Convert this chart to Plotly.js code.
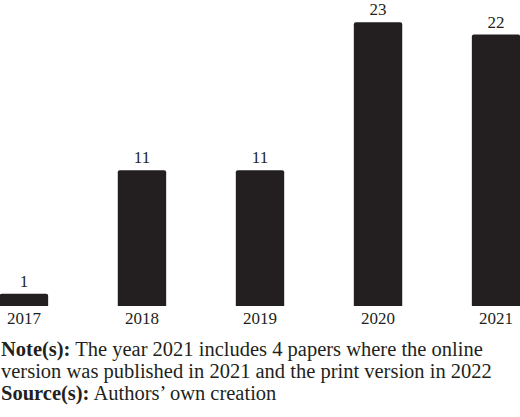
<!DOCTYPE html>
<html>
<head>
<meta charset="utf-8">
<script src="https://cdn.plot.ly/plotly-3.0.1.min.js"></script>
<style>
  html, body { margin: 0; padding: 0; background: #fff; }
  #chart { width: 520px; height: 417px; }
</style>
</head>
<body>
<div id="chart"></div>
<script>
var years = ['2017', '2018', '2019', '2020', '2021'];
var papers = [1, 11, 11, 23, 22];
var notes = [
  '<b>Note(s):</b> The year 2021 includes 4 papers where the online',
  'version was published in 2021 and the print version in 2022',
  '<b>Source(s):</b> Authors\u2019 own creation'
];
var noteY = [-0.143, -0.215, -0.287];

var ink = '#231f20';
var serif = 'Liberation Serif, Times New Roman, serif';

var data = [{
  x: years,
  y: papers,
  type: 'bar',
  text: papers.map(String),
  textposition: 'outside',
  cliponaxis: false,
  textfont: { family: serif, size: 17, color: ink },
  marker: { color: ink, cornerradius: 2 },
  hoverinfo: 'x+y'
}];

var layout = {
  width: 520,
  height: 417,
  margin: { l: 0, r: 0, t: 0, b: 111 },
  paper_bgcolor: '#fff',
  plot_bgcolor: '#fff',
  showlegend: false,
  bargap: 0.59,
  font: { family: serif, color: ink },
  xaxis: {
    type: 'category',
    range: [-0.203, 4.203],
    showgrid: false,
    zeroline: false,
    showline: false,
    ticks: '',
    tickfont: { family: serif, size: 17, color: ink },
    fixedrange: true
  },
  yaxis: {
    range: [0, 24.8],
    visible: false,
    fixedrange: true
  },
  annotations: notes.map(function (t, i) {
    return {
      text: t,
      xref: 'paper', yref: 'paper',
      x: 0, y: noteY[i],
      xanchor: 'left', yanchor: 'middle',
      showarrow: false,
      borderpad: 0,
      font: { family: serif, size: 20.5, color: ink }
    };
  })
};

Plotly.newPlot('chart', data, layout, { displayModeBar: false, staticPlot: true });
</script>
</body>
</html>
